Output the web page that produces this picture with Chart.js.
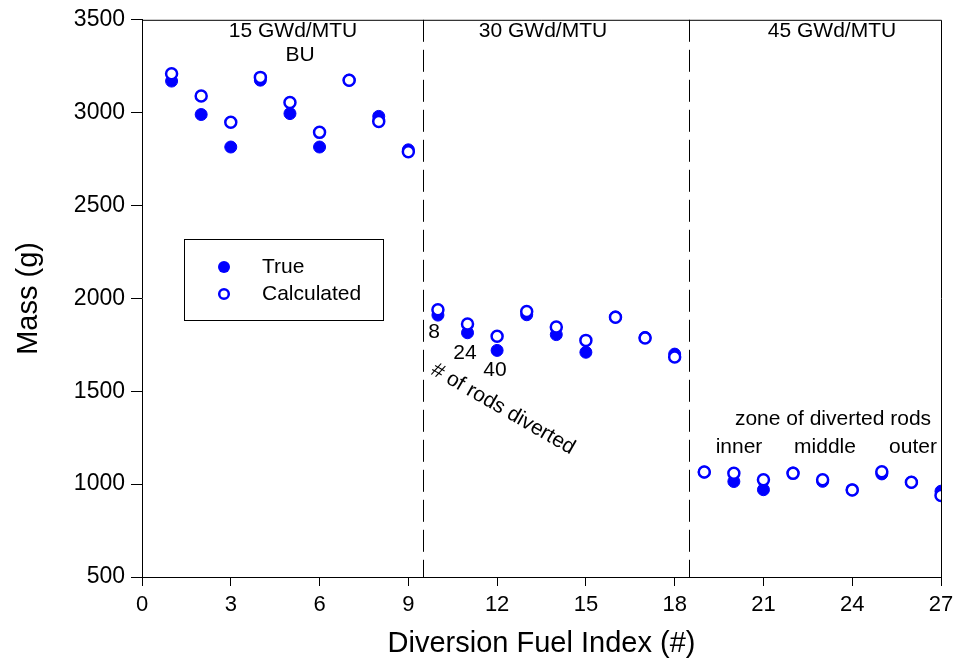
<!DOCTYPE html>
<html>
<head>
<meta charset="utf-8">
<script src="https://cdn.jsdelivr.net/npm/chart.js@4.4.0/dist/chart.umd.min.js"></script>
<style>
  html, body { margin: 0; padding: 0; background: #fff; }
  #wrap { width: 956px; height: 663px; }
</style>
</head>
<body>
<div id="wrap"><canvas id="massChart" width="956" height="663"></canvas></div>
<script>
// Diversion fuel index 1..27
const fuelIndex = [1, 2, 3, 4, 5, 6, 7, 8, 9, 10, 11, 12, 13, 14, 15, 16, 17, 18, 19, 20, 21, 22, 23, 24, 25, 26, 27];
const trueMass = [3170, 2990, 2815, 3175, 2995, 2815, 3175, 2980, 2800,
                  1910, 1815, 1720, 1912, 1805, 1710, 1900, 1790, 1700,
                  1065, 1014, 970, 1060, 1015, 969, 1055, 1010, 962];
const calcMass = [3210, 3090, 2948, 3190, 3055, 2894, 3175, 2953, 2790,
                  1939, 1862, 1796, 1930, 1846, 1774, 1899, 1787, 1684,
                  1065, 1058, 1023, 1058, 1023, 969, 1067, 1010, 939];
const burnupLabels = ['15 GWd/MTU', '30 GWd/MTU', '45 GWd/MTU'];
const groupBreaks = [9.5, 18.5];

const FONT = "'Liberation Sans', Arial, sans-serif";
const BLUE = '#0000ff';

const toPoints = (ys) => fuelIndex.map((x, i) => ({ x: x, y: ys[i] }));

// frame, dashed separators, legend and the text notes
const extras = {
    id: 'extras',
    afterDraw(chart) {
        const { ctx, chartArea: a, scales: { x, y } } = chart;
        ctx.save();
        ctx.strokeStyle = '#000';
        ctx.lineWidth = 1;
        ctx.beginPath();
        ctx.moveTo(a.left, a.top + 0.5);
        ctx.lineTo(a.right + 0.5, a.top + 0.5);
        ctx.lineTo(a.right + 0.5, a.bottom);
        ctx.stroke();

        ctx.setLineDash([22, 8]);
        groupBreaks.forEach(v => {
            const px = Math.round(x.getPixelForValue(v)) + 0.5;
            ctx.beginPath();
            ctx.moveTo(px, a.top);
            ctx.lineTo(px, a.bottom);
            ctx.stroke();
        });
        ctx.setLineDash([]);

        // legend
        ctx.strokeRect(184.5, 239.5, 199, 81);
        ctx.fillStyle = BLUE;
        ctx.beginPath();
        ctx.arc(224, 267, 6, 0, Math.PI * 2);
        ctx.fill();
        ctx.strokeStyle = BLUE;
        ctx.lineWidth = 2.5;
        ctx.fillStyle = '#fff';
        ctx.beginPath();
        ctx.arc(224, 294, 4.8, 0, Math.PI * 2);
        ctx.fill();
        ctx.stroke();

        ctx.fillStyle = '#000';
        ctx.font = '21px ' + FONT;
        ctx.textBaseline = 'middle';
        ctx.textAlign = 'left';
        ctx.fillText('True', 262, 267);
        ctx.fillText('Calculated', 262, 294);

        ctx.textAlign = 'center';
        ctx.fillText(burnupLabels[0], 293, 31);
        ctx.fillText('BU', 300, 55);
        ctx.fillText(burnupLabels[1], 543, 31);
        ctx.fillText(burnupLabels[2], 832, 31);

        ctx.fillText('8', 434, 332);
        ctx.fillText('24', 465, 353);
        ctx.fillText('40', 495, 370);

        ctx.fillText('zone of diverted rods', 833, 419);
        ctx.fillText('inner', 739, 447);
        ctx.fillText('middle', 825, 447);
        ctx.fillText('outer', 913, 447);

        ctx.save();
        ctx.translate(503, 409);
        ctx.rotate(30 * Math.PI / 180);
        ctx.fillText('# of rods diverted', 0, 0);
        ctx.restore();

        ctx.restore();
    }
};

new Chart(document.getElementById('massChart'), {
    type: 'scatter',
    data: {
        datasets: [{
            label: 'True',
            data: toPoints(trueMass),
            backgroundColor: BLUE,
            borderColor: BLUE,
            borderWidth: 1,
            pointRadius: 6,
            order: 1
        }, {
            label: 'Calculated',
            data: toPoints(calcMass),
            backgroundColor: '#fff',
            borderColor: BLUE,
            borderWidth: 2.5,
            pointRadius: 5.5,
            order: 0
        }]
    },
    options: {
        responsive: false,
        animation: false,
        layout: { padding: { top: 17, right: 15, left: 0, bottom: 0 } },
        plugins: {
            legend: { display: false },
            tooltip: { enabled: false }
        },
        scales: {
            x: {
                type: 'linear',
                min: 0,
                max: 27,
                afterFit: (s) => { s.height = 86; s.paddingRight = 0; s.paddingLeft = 0; },
                ticks: {
                    stepSize: 3,
                    color: '#000',
                    padding: 6,
                    font: { family: FONT, size: 22 }
                },
                grid: { drawOnChartArea: false, drawTicks: true, tickLength: 9, color: '#000' },
                border: { color: '#000', width: 1 },
                title: {
                    display: true,
                    text: 'Diversion Fuel Index (#)',
                    color: '#000',
                    font: { family: FONT, size: 29 },
                    padding: { top: 0, bottom: 2 }
                }
            },
            y: {
                min: 500,
                max: 3500,
                afterFit: (s) => { s.width = 142; },
                ticks: {
                    stepSize: 500,
                    color: '#000',
                    padding: 6,
                    font: { family: FONT, size: 23 },
                    callback: (v) => String(v)
                },
                grid: { drawOnChartArea: false, drawTicks: true, tickLength: 11, color: '#000' },
                border: { color: '#000', width: 1 },
                title: {
                    display: true,
                    text: 'Mass (g)',
                    color: '#000',
                    font: { family: FONT, size: 29 },
                    padding: { top: 12, bottom: 0 }
                }
            }
        }
    },
    plugins: [extras]
});
</script>
</body>
</html>
